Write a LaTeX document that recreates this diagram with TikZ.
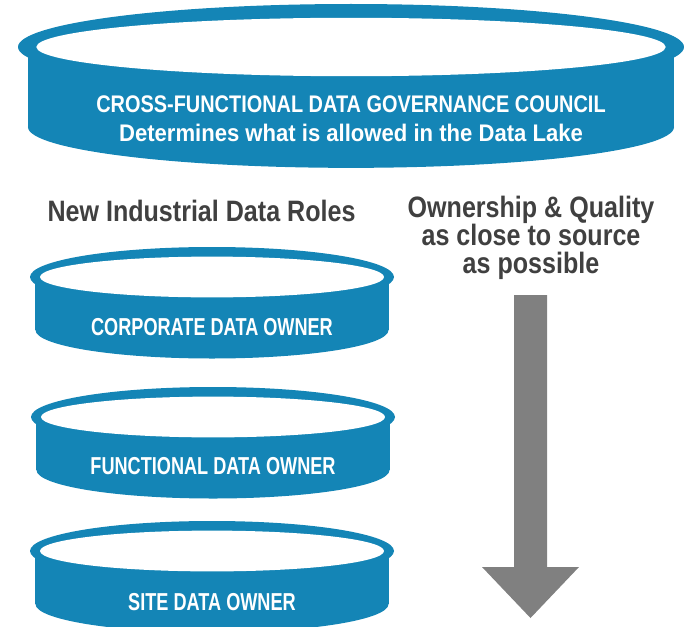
\documentclass[tikz,border=0pt]{standalone}
\usepackage{fontspec}
\setmainfont[FakeStretch=0.85]{Liberation Sans}
\newfontfamily\councilfont[FakeStretch=0.83]{Liberation Sans}
\newfontfamily\councilsub[FakeStretch=0.92]{Liberation Sans}
\newfontfamily\ownerfont[FakeStretch=0.74]{Liberation Sans}
\usetikzlibrary{calc,positioning}
\definecolor{council}{HTML}{1485B6}
\definecolor{headline}{HTML}{404040}
\definecolor{flow}{HTML}{808080}

% ── Helper: one drum (ring on top, body below) ──
% Args: center, outer x radius, outer y radius, body depth
\newcommand{\drawdrum}[4]{
    \pgfmathsetmacro{\hw}{0.97*#2}
    \pgfmathsetmacro{\brx}{0.95*#3}
    \fill[council] ($(#1)+(-\hw,0)$) rectangle ($(#1)+(\hw,#4)$);
    \fill[council] ($(#1)+(0,#4)$) ellipse [x radius=\hw, y radius=\brx];
    \fill[council] (#1) ellipse [x radius=#2, y radius=#3];
    \fill[white] (#1) ellipse [x radius={0.945*#2}, y radius={0.68*#3}];
}

\begin{document}
\begin{tikzpicture}[
    x=1pt, y=-1pt,
    drumtext/.style={font=\ownerfont\bfseries\fontsize{24.5}{26}\selectfont, text=white, inner sep=0pt},
    counciltext/.style={font=\bfseries\fontsize{24}{29}\selectfont, text=white, inner sep=0pt, align=center},
    headtext/.style={font=\bfseries\fontsize{29.5}{28}\selectfont, text=headline, align=center, inner sep=0pt},
]
\useasboundingbox (0,0) rectangle (684,626);
\clip (0,0) rectangle (684,626);

% ══════════════════════════════════════════════════════════════
% Council drum
% ══════════════════════════════════════════════════════════════
\coordinate (C0) at (351,47);
\drawdrum{C0}{333}{43}{80}
\node[counciltext] (council) at ($(C0)+(0,72)$)
    {\councilfont CROSS-FUNCTIONAL DATA GOVERNANCE COUNCIL\\\councilsub Determines what is allowed in the Data Lake};

% ── Headings ──
\node[headtext] (roles) at (201.5,211) {New Industrial Data Roles};
\node[headtext] (ownership) at (531,238) {Ownership \& Quality\\as close to source\\as possible};

% ══════════════════════════════════════════════════════════════
% Data owner drums
% ══════════════════════════════════════════════════════════════
\coordinate (C1) at (212,277);
\coordinate (C2) at (213,417);
\coordinate (C3) at (212,551);
\foreach \c in {C1,C2,C3} {
    \drawdrum{\c}{182}{30}{53}
}
\node[drumtext] (corporate) at ($(C1)+(0,50)$) {CORPORATE DATA OWNER};
\node[drumtext] (functional) at ($(C2)+(0,49)$) {FUNCTIONAL DATA OWNER};
\node[drumtext] (site) at ($(C3)+(0,51)$) {SITE DATA OWNER};

% ── Block arrow ──
\coordinate (flowtop) at (530.5,295);
\coordinate (flowtip) at (530.5,618);
\fill[flow] ($(flowtop)+(-16.5,0)$) -- ($(flowtop)+(16.5,0)$)
    -- ($(flowtip)+(16.5,-51)$) -- ($(flowtip)+(48.5,-51)$) -- (flowtip)
    -- ($(flowtip)+(-48.5,-51)$) -- ($(flowtip)+(-16.5,-51)$) -- cycle;

\end{tikzpicture}
\end{document}
